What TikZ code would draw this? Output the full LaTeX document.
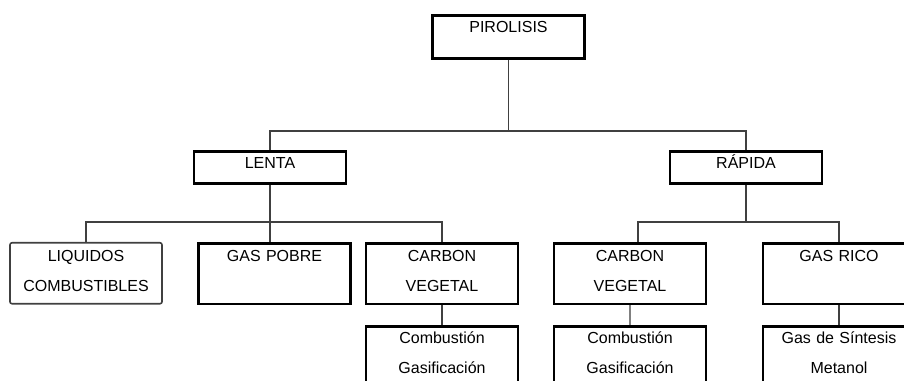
\documentclass[tikz,border=0pt]{standalone}
\usepackage{fontspec}
\setmainfont{Liberation Sans}
\usepackage{tikz}

\begin{document}
\begin{tikzpicture}[x=0.75pt,y=-0.75pt,
  font=\fontsize{12pt}{22.5pt}\selectfont,
  box/.style={draw,line width=1.9pt,anchor=north,inner sep=0pt,
    text width=114pt,align=center},
  lvla/.style={box,text height=13.3pt,text depth=19pt},
  lvlb/.style={box,text height=13.3pt,text depth=10.7pt},
  lvlc/.style={box,text height=14pt,text depth=31.7pt},
  lvld/.style={box,text height=13.3pt,text depth=45pt},
  link/.style={draw=black!75,line width=1pt}]
  % Page and clipping
  \useasboundingbox (0,0) rectangle (904,381);
  \fill[white] (0,0) rectangle (904,381);
  \clip (0,0) rectangle (904,381);
  % Top box
  \node[lvla] (pir) at (508.5,14) {PIROLISIS};
  % Second level
  \node[lvlb] (lenta) at (270,150) {LENTA};
  \node[lvlb] (rapida) at (746,150) {RÁPIDA};
  % Third level
  \node[lvlc,draw=black!75,line width=1.2pt,rounded corners=1.5pt] (liq) at (86,242) {LIQUIDOS\\COMBUSTIBLES};
  \node[lvlc] (pobre) at (274.5,242) {GAS POBRE};
  \node[lvlc] (cvl) at (442,242) {CARBON\\VEGETAL};
  \node[lvlc] (cvr) at (630,242) {CARBON\\VEGETAL};
  \node[lvlc] (rico) at (839,242) {GAS RICO};
  % Uses
  \node[lvld] (usol) at (442,325) {Combustión\\Gasificación};
  \node[lvld] (usor) at (630,325) {Combustión\\Gasificación};
  \node[lvld] (usog) at (839,325) {Gas de Síntesis\\Metanol};
  % Junctions
  \coordinate (top) at (508.5,131);
  \coordinate (jl) at (270,222);
  \coordinate (jr) at (746,222);
  % Connectors
  \draw[link] (pir.south) -- (top);
  \draw[link] (lenta.north) |- (top) -| (rapida.north);
  \draw[link] (lenta.south) -- (lenta.south |- pobre.north);
  \draw[link] (liq.north) |- (jl) -| (cvl.north);
  \draw[link] (rapida.south) -- (jr);
  \draw[link] ([xshift=6pt]cvr.north) |- (jr) -| (rico.north);
  \draw[link] (cvl) -- (usol);
  \draw[link,draw=black!50,line width=0.8pt] (cvr) -- (usor);
  \draw[link] (rico) -- (usog);
\end{tikzpicture}
\end{document}
